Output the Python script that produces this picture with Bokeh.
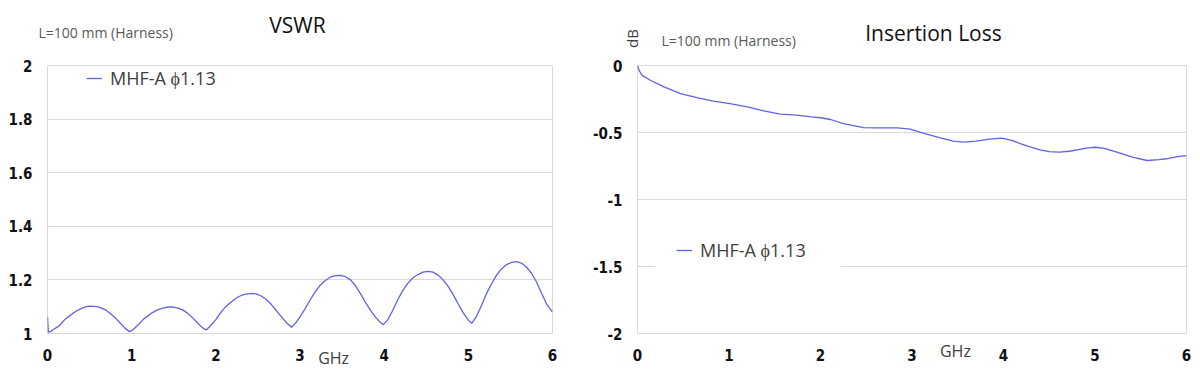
import math
from bokeh.plotting import figure
from bokeh.models import (Label, FixedTicker, NumeralTickFormatter, Range1d,
                          LinearAxis, CustomJSTickFormatter, BoxAnnotation)
from bokeh.layouts import row, column
from bokeh.embed import file_html
from bokeh.resources import INLINE

# ---------------- data ----------------
x_ticks = [0, 1, 2, 3, 4, 5, 6]
vswr_ticks = [1, 1.2, 1.4, 1.6, 1.8, 2]
il_ticks = [0, -0.5, -1, -1.5, -2]

series_name = "MHF-A \u03d51.13"
x_label = "GHz"
subtitle = "L=100 mm (Harness)"
vswr_title = "VSWR"
il_title = "Insertion Loss"
il_unit = "dB"

vswr_ghz = [0.0, 0.01, 0.04, 0.07, 0.1, 0.14, 0.17, 0.2, 0.25, 0.3, 0.35, 0.4, 0.45, 0.5, 0.55, 0.6, 0.65,
            0.7, 0.75, 0.8, 0.86, 0.92, 0.975,
            1.02, 1.07, 1.13, 1.18, 1.23, 1.3, 1.36, 1.42, 1.48, 1.54, 1.6, 1.66, 1.72, 1.78, 1.84, 1.886,
            1.94, 2.0, 2.05, 2.1, 2.16, 2.22, 2.28, 2.34, 2.42, 2.48, 2.54, 2.6, 2.66, 2.72, 2.78, 2.84, 2.9,
            2.95, 3.0, 3.06, 3.12, 3.18, 3.24, 3.3, 3.36, 3.42, 3.48, 3.54, 3.6, 3.66, 3.72, 3.78, 3.84, 3.9,
            3.95, 3.99,
            4.04, 4.1, 4.16, 4.22, 4.28, 4.34, 4.4, 4.46, 4.52, 4.58, 4.64, 4.7, 4.76, 4.82, 4.88, 4.94, 5.0,
            5.04,
            5.09, 5.15, 5.21, 5.27, 5.33, 5.39, 5.45, 5.51, 5.57, 5.63, 5.69, 5.75, 5.81, 5.87, 5.93, 6.0]
vswr_val = [1.062, 1.005, 1.008, 1.015, 1.021, 1.029, 1.04, 1.05, 1.063, 1.075, 1.085, 1.093, 1.099, 1.102,
            1.101, 1.099, 1.094, 1.086, 1.074, 1.06, 1.04, 1.02, 1.007,
            1.015, 1.03, 1.05, 1.063, 1.075, 1.087, 1.094, 1.098, 1.099, 1.096, 1.089, 1.077, 1.06, 1.04,
            1.022, 1.013,
            1.03, 1.052, 1.075, 1.094, 1.112, 1.127, 1.139, 1.146, 1.150, 1.148, 1.14, 1.127, 1.108, 1.085,
            1.062, 1.04, 1.023,
            1.04, 1.062, 1.092, 1.125, 1.155, 1.18, 1.198, 1.21, 1.216, 1.217, 1.212, 1.2, 1.178, 1.148, 1.115,
            1.085, 1.06, 1.043, 1.033,
            1.05, 1.085, 1.125, 1.16, 1.187, 1.207, 1.22, 1.229, 1.232, 1.229, 1.218, 1.2, 1.176, 1.145, 1.11,
            1.077, 1.05, 1.038,
            1.06, 1.1, 1.145, 1.182, 1.215, 1.24, 1.256, 1.265, 1.268, 1.263, 1.248, 1.225, 1.192, 1.15, 1.11,
            1.08]

il_ghz = [0.0, 0.02, 0.05, 0.14, 0.29, 0.47, 0.65, 0.83, 1.01, 1.2, 1.38, 1.56, 1.74, 1.9, 2.0,
          2.11, 2.25, 2.47, 2.62, 2.84, 2.98, 3.13, 3.31, 3.45, 3.57, 3.7, 3.85, 3.98, 4.1,
          4.19, 4.3, 4.4, 4.5, 4.61, 4.72, 4.82, 4.92, 5.01, 5.1, 5.24, 5.41, 5.57, 5.7, 5.78, 5.9, 6.0]
il_db = [0.0, -0.04, -0.074, -0.11, -0.16, -0.21, -0.24, -0.266, -0.284, -0.308, -0.338, -0.363, -0.371,
         -0.383, -0.39, -0.403, -0.433, -0.463, -0.465, -0.465, -0.475, -0.507, -0.540, -0.565, -0.572,
         -0.565, -0.55, -0.542, -0.56, -0.585, -0.61, -0.63, -0.643, -0.647, -0.64, -0.627, -0.615, -0.61,
         -0.618, -0.647, -0.684, -0.709, -0.703, -0.696, -0.68, -0.672]

# ---------------- style ----------------
LINE = "#6262e4"
GRID = "#d9d9d9"
TICK_FONT = "DejaVu Sans Condensed"
TXT_FONT = "Open Sans"
HEAD_H = 50


def style(p, yticks):
    p.xaxis.ticker = FixedTicker(ticks=x_ticks)
    p.yaxis.ticker = FixedTicker(ticks=yticks)
    p.yaxis.formatter = NumeralTickFormatter(format="0.[0]")
    for ax in (p.xaxis[0], p.yaxis[0]):
        ax.axis_line_color = None
        ax.major_tick_line_color = None
        ax.minor_tick_line_color = None
        ax.major_tick_in = 0
        ax.major_tick_out = 0
        ax.major_label_text_font = TICK_FONT
        ax.major_label_text_font_style = "bold"
        ax.major_label_text_font_size = "15px"
        ax.major_label_text_color = "#111111"
        ax.major_label_standoff = 15
    p.xaxis.major_label_standoff = 15
    p.xgrid.visible = False
    p.ygrid.grid_line_color = GRID
    p.ygrid.grid_line_width = 1
    p.outline_line_color = GRID
    p.outline_line_width = 1
    p.background_fill_color = "white"
    p.border_fill_color = "white"


def unit_axis(p, pos, standoff):
    ax = LinearAxis(ticker=FixedTicker(ticks=[pos]),
                    formatter=CustomJSTickFormatter(code="return '%s'" % x_label))
    ax.axis_line_color = None
    ax.major_tick_line_color = None
    ax.minor_tick_line_color = None
    ax.major_tick_in = 0
    ax.major_tick_out = 0
    ax.major_label_standoff = standoff
    ax.major_label_text_font = TXT_FONT
    ax.major_label_text_font_size = "16px"
    ax.major_label_text_color = "#404040"
    p.add_layout(ax, "below")


def header(width):
    h = figure(width=width, height=HEAD_H, output_backend="svg", toolbar_location=None,
               x_axis_type=None, y_axis_type=None, x_range=Range1d(0, 1), y_range=Range1d(0, 1),
               min_border=0, min_border_left=0, min_border_right=0, min_border_top=0, min_border_bottom=0)
    h.outline_line_color = None
    h.grid.visible = False
    h.background_fill_color = "white"
    h.border_fill_color = "white"
    return h


def lbl(p, x, y, text, size, color, align="left", angle=0.0):
    p.add_layout(Label(x=x, y=y, x_units="screen", y_units="screen", text=text,
                       text_font=TXT_FONT, text_font_size=size, text_color=color,
                       text_align=align, text_baseline="middle", angle=angle))


def legend_style(lg, loc, pad):
    lg.location = loc
    lg.padding = pad
    lg.border_line_color = None
    lg.background_fill_color = "white"
    lg.background_fill_alpha = 1
    lg.glyph_width = 16
    lg.label_standoff = 8
    lg.label_text_font = TXT_FONT
    lg.label_text_font_size = "18px"
    lg.label_text_color = "#404040"


# ---------------- headers ----------------
h1 = header(570)
lbl(h1, 297, 26, vswr_title, "21px", "#111111", align="center")
lbl(h1, 38, 18, subtitle, "14px", "#595959")

h2 = header(622)
lbl(h2, 363, 18, il_title, "21px", "#111111", align="center")
lbl(h2, 91, 10, subtitle, "14px", "#595959")
lbl(h2, 61, 12, il_unit, "15px", "#404040", align="center", angle=math.pi / 2)

# ---------------- VSWR ----------------
p1 = figure(width=570, height=330, output_backend="svg", toolbar_location=None,
            x_range=Range1d(0, 6), y_range=Range1d(1, 2),
            min_border_left=47, min_border_right=18, min_border_top=8, min_border_bottom=47)
style(p1, vswr_ticks)
p1.line(vswr_ghz, vswr_val, line_color=LINE, line_width=1.3, legend_label=series_name)
legend_style(p1.legend[0], (39, 243), 8)
unit_axis(p1, 3.40, -17)

# ---------------- Insertion loss ----------------
p2 = figure(width=622, height=330, output_backend="svg", toolbar_location=None,
            x_range=Range1d(0, 6), y_range=Range1d(-2, 0),
            min_border_left=67, min_border_right=6, min_border_top=15, min_border_bottom=47)
style(p2, il_ticks)
# white gap behind the legend box, hiding that stretch of grid line
p2.add_layout(BoxAnnotation(left=17, right=203, bottom=59, top=75,
                            left_units="screen", right_units="screen",
                            bottom_units="screen", top_units="screen",
                            fill_color="white", fill_alpha=1, line_color=None, level="underlay"))
p2.line(il_ghz, il_db, line_color=LINE, line_width=1.3, legend_label=series_name)
legend_style(p2.legend[0], (39, 71), 24)
p2.legend[0].label_width = 115
unit_axis(p2, 3.475, -24)

layout = column(row(h1, h2), row(p1, p2))
open("out.html", "w").write(file_html(layout, INLINE))
